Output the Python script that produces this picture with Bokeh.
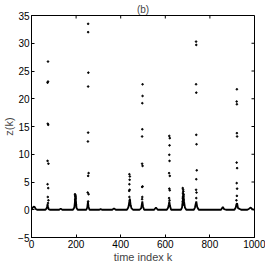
import math
from bokeh.plotting import figure
from bokeh.models import Range1d, FixedTicker
from bokeh.embed import file_html
from bokeh.resources import INLINE

# ---- data ----
x_ticks = [0, 200, 400, 600, 800, 1000]
y_ticks = [-5, 0, 5, 10, 15, 20, 25, 30, 35]

# dense near-zero part of the series (drawn as a thick trace)
base_k = [0, 4, 9, 14, 19, 25, 40, 62, 67, 70, 72, 74, 77, 82, 100, 124, 131, 138, 160,
          186, 192, 195, 197, 199, 202, 207, 230, 246, 250, 253, 256, 260, 280, 304, 310,
          316, 340, 362, 370, 378, 400, 428, 434, 438, 441, 444, 448, 455, 485, 492, 495,
          497, 500, 505, 530, 550, 558, 566, 590, 607, 613, 616, 618, 621, 626, 650, 670,
          675, 678, 681, 684, 688, 694, 715, 728, 733, 736, 739, 743, 750, 800, 850, 858,
          864, 872, 900, 910, 916, 919, 922, 926, 940, 968, 976, 983, 990, 1000]
base_z = [0.0, 0.3, 0.55, 0.5, 0.15, 0.0, 0.0, 0.0, 0.2, 0.6, 1.0, 0.6, 0.1, 0.0, 0.0, 0.0, 0.2, 0.0, 0.0,
          0.0, 0.4, 1.5, 2.8, 1.5, 0.3, 0.0, 0.0, 0.0, 0.4, 1.4, 0.5, 0.0, 0.0, 0.0, 0.15,
          0.0, 0.0, 0.0, 0.25, 0.0, 0.0, 0.0, 0.4, 1.2, 2.0, 1.0, 0.3, 0.0, 0.0, 0.3, 1.0,
          1.5, 0.6, 0.0, 0.0, 0.0, 0.4, 0.0, 0.0, 0.0, 0.4, 1.0, 1.5, 0.7, 0.0, 0.0, 0.0,
          0.4, 1.5, 3.0, 1.5, 0.4, 0.0, 0.0, 0.0, 0.4, 1.0, 1.5, 0.5, 0.0, 0.0, 0.0, 0.5,
          0.1, 0.0, 0.0, 0.0, 0.4, 1.0, 1.2, 0.3, 0.0, 0.0, 0.2, 0.4, 0.1, 0.0]

# isolated excursions (individual points)
spike_k = [74, 74, 72, 73, 75, 72, 76, 72, 75, 73, 76, 74,
           195, 196, 197, 198, 196, 197, 198, 199,
           254, 254, 255, 254, 254, 253, 256, 254, 252, 256, 254,
           439, 441, 440, 439, 440, 438, 439, 441, 440, 442,
           498, 498, 497, 497, 496, 496, 498, 498, 496, 497, 496,
           618, 620, 619, 618, 619, 617, 620, 618, 620, 617, 619,
           678, 680, 681, 679, 682, 680, 678, 681, 679, 682, 680,
           738, 739, 738, 739, 739, 740, 741, 739, 738, 740, 739,
           921, 920, 921, 921, 922, 920, 922, 920, 922, 921, 919]
spike_z = [26.7, 23.1, 22.9, 15.5, 15.3, 8.8, 8.3, 4.6, 3.9, 2.3, 1.7, 1.2,
           2.8, 2.6, 2.4, 2.1, 1.8, 1.5, 1.2, 0.9,
           33.5, 32.0, 24.7, 22.2, 13.9, 12.3, 6.6, 6.1, 3.1, 2.8, 1.5,
           6.4, 6.0, 5.4, 4.6, 3.6, 3.4, 2.3, 1.6, 1.2, 0.8,
           22.6, 20.5, 19.2, 14.5, 13.2, 8.3, 7.9, 4.2, 4.1, 2.3, 1.9,
           13.3, 12.9, 11.6, 9.9, 8.8, 6.6, 6.1, 3.8, 3.5, 2.1, 1.7,
           3.9, 3.6, 3.3, 3.0, 2.7, 2.4, 2.1, 1.8, 1.5, 1.2, 0.9,
           30.3, 29.7, 22.6, 21.1, 13.5, 11.8, 7.1, 5.5, 3.6, 3.1, 2.1,
           21.7, 19.5, 19.0, 13.8, 13.2, 8.5, 7.5, 4.8, 3.8, 2.5, 1.7]

X_MIN, X_MAX, Y_MIN, Y_MAX = 0, 1000, -5, 35

# ---- figure ----
p = figure(width=265, height=265, x_range=Range1d(X_MIN, X_MAX), y_range=Range1d(Y_MIN, Y_MAX),
           output_backend="svg", toolbar_location=None, title="(b)",
           min_border_left=0, min_border_right=11, min_border_top=0, min_border_bottom=0)
p.title.align = "center"
p.title.text_font = "Liberation Sans"
p.title.text_font_size = "10px"
p.title.text_font_style = "normal"
p.title.standoff = 2
p.title.offset = 0

p.xgrid.visible = False
p.ygrid.visible = False
p.outline_line_color = "black"
p.outline_line_width = 1
p.background_fill_color = "white"
p.border_fill_color = "white"

for ax, ticks in ((p.xaxis[0], x_ticks), (p.yaxis[0], y_ticks)):
    ax.ticker = FixedTicker(ticks=ticks)
    ax.major_tick_in = 3
    ax.major_tick_out = 0
    ax.minor_tick_line_color = None
    ax.axis_line_color = "black"
    ax.major_tick_line_color = "black"
    ax.major_label_text_font = "Liberation Sans"
    ax.major_label_text_color = "black"
    ax.major_label_text_font_size = "10px"
    ax.major_label_standoff = 2
    ax.axis_label_text_font = "Liberation Sans"
    ax.axis_label_text_font_size = "11px"
    ax.axis_label_text_font_style = "normal"
    ax.axis_label_standoff = 0
p.xaxis.axis_label = "time index k"
p.yaxis.axis_label = "z(k)"
p.yaxis[0].major_label_overrides = {-5: "\u22125"}

# mirrored inward ticks on the top and right edges of the box
p.ray(x=x_ticks, y=[Y_MAX] * len(x_ticks), length=3, length_units="screen",
      angle=-math.pi / 2, line_color="black", line_width=1)
p.ray(x=[X_MAX] * len(y_ticks), y=y_ticks, length=3, length_units="screen",
      angle=math.pi, line_color="black", line_width=1)

p.line(base_k, base_z, line_color="black", line_width=1.8)
p.scatter(spike_k, spike_z, size=1.6, color="black", marker="circle")

open("out.html", "w").write(file_html(p, INLINE))
